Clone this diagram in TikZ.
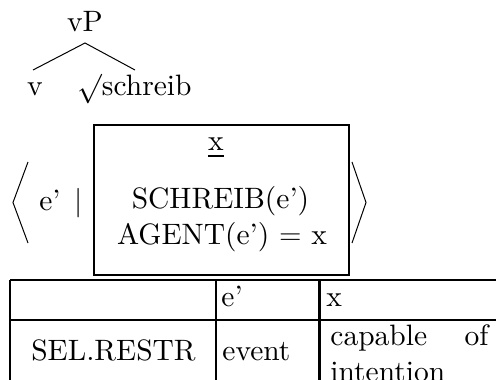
\RequirePackage{fix-cm}
\documentclass[tikz,border=0pt]{standalone}
\usepackage{fontspec}
\setmainfont{lmroman10-regular.otf}
\begin{document}
\begin{tikzpicture}[x=0.5pt,y=-0.5pt,
  txt/.style={inner sep=0pt,font=\fontsize{14.75}{18}\selectfont},
  thin/.style={line width=0.5pt},
  boxline/.style={line width=1.3pt},
  tabline/.style={line width=1.2pt},
  uline/.style={line width=1.2pt}]
\useasboundingbox (0,0) rectangle (496,379);
\clip (0,0) rectangle (496,379);
% tree
\node[txt,anchor=base] (vp) at (85,32) {vP};
\coordinate (apex) at (85,43);
\coordinate (lft) at (33,70);
\coordinate (rgt) at (135,70);
\draw[thin] (lft) -- (apex) -- (rgt);
\node[txt,anchor=base] (v) at (35,96) {v};
\node[txt,anchor=base west] (root) at (77,96) {$\surd$schreib};
% angle brackets
\coordinate (la1) at (28,162); \coordinate (la2) at (13,202.5); \coordinate (la3) at (28,243);
\draw[thin] (la1) -- (la2) -- (la3);
\coordinate (ra1) at (352,162); \coordinate (ra2) at (366,202.5); \coordinate (ra3) at (352,243);
\draw[thin] (ra1) -- (ra2) -- (ra3);
\node[txt,anchor=base] (e) at (50,210) {e'};
\node[txt,anchor=base] (bar) at (79,210) {$|$};
% DRS box
\coordinate (b1) at (94,125); \coordinate (b2) at (349,275);
\draw[boxline] (b1) rectangle (b2);
\node[txt,anchor=base] (ux) at (216,150) {x};
\draw[uline] ([yshift=-3pt]ux.base west) -- ([yshift=-3pt]ux.base east);
\node[txt,anchor=base] (s1) at (220.5,208) {SCHREIB(e')};
\node[txt,anchor=base] (s2) at (222,244) {AGENT(e') $=$ x};
% table
\coordinate (t1) at (10,280); \coordinate (t2) at (520,280);
\coordinate (t3) at (10,320); \coordinate (t4) at (520,320);
\coordinate (c0a) at (10,280); \coordinate (c0b) at (10,400);
\coordinate (c1a) at (216,280); \coordinate (c1b) at (216,400);
\coordinate (c2a) at (319.5,280); \coordinate (c2b) at (319.5,400);
\draw[tabline] (t1) -- (t2) (t3) -- (t4) (c0a) -- (c0b) (c1a) -- (c1b) (c2a) -- (c2b);
\node[txt,anchor=base west] (h1) at (221,306) {e'};
\node[txt,anchor=base west] (h2) at (326,306) {x};
\node[txt,anchor=base] (r1) at (113.5,360) {SEL.RESTR};
\node[txt,anchor=base west] (r2) at (222,360) {event};
\node[txt,anchor=base west] (r3) at (330,345) {\parbox[t]{79pt}{\hyphenpenalty=10000 capable of intention}};
\end{tikzpicture}
\end{document}
